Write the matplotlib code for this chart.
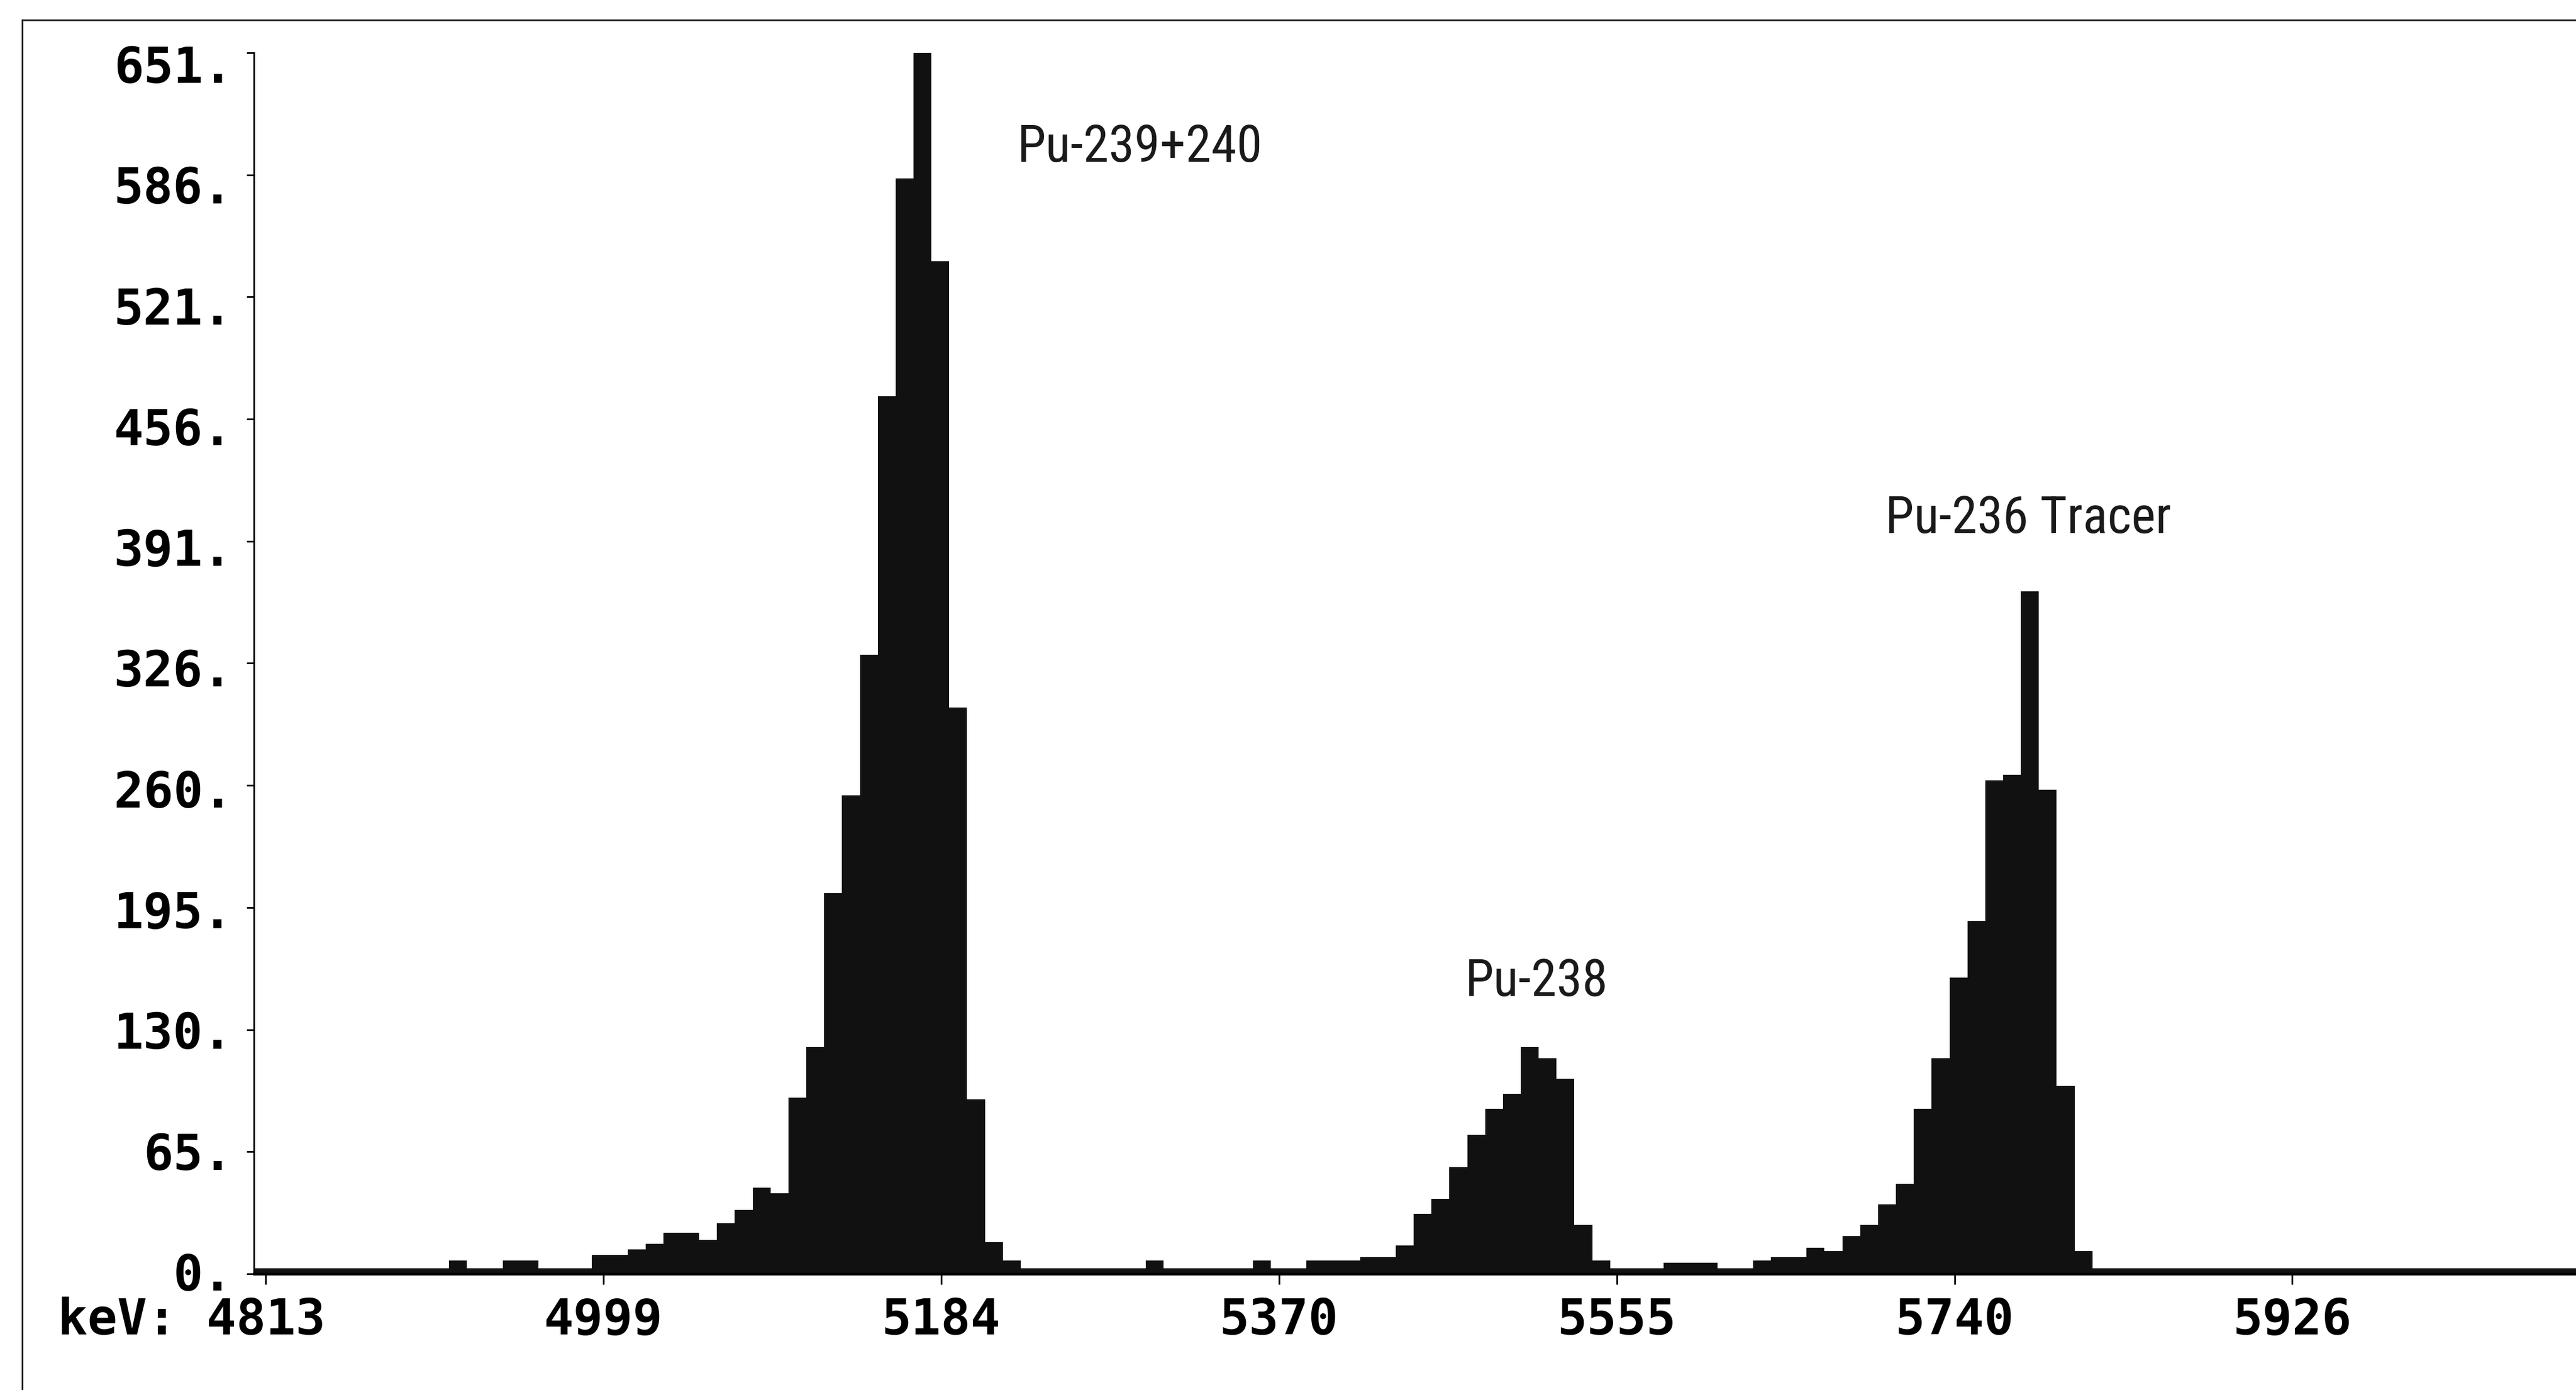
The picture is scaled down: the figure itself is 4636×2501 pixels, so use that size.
import numpy as np
import matplotlib.pyplot as plt
from matplotlib import font_manager
from matplotlib.lines import Line2D
from matplotlib.transforms import ScaledTranslation

# Pu alpha spectrum, counts per channel
first_channel_kev = 4805.8   # lower edge of channel 0
channel_width_kev = 9.81
counts = [
    3, 3, 3, 3, 3, 3, 3, 3, 3, 3, 3, 7, 3, 3, 7, 7, 3, 3, 3,
    10, 10, 13, 16, 22, 22, 18, 27, 34, 46, 43,
    94, 121, 203, 255, 330, 468, 584, 651, 540, 302, 93, 17, 7,
    3, 3, 3, 3, 3, 3, 3, 7, 3, 3, 3, 3, 3, 7, 3, 3,
    7, 7, 7, 9, 9, 15, 32, 40, 57, 74, 88, 96, 121, 115, 104, 26, 7,
    3, 3, 3, 6, 6, 6, 3, 3, 7, 9, 9, 14, 12, 20, 26, 37, 48,
    88, 115, 158, 188, 263, 266, 364, 258, 100, 12,
    3, 3, 3, 3, 3, 3, 3, 3, 3, 3, 3, 3, 3, 3,
    3, 3, 3, 3, 3, 3, 3, 3, 3, 3, 3, 3, 3, 3,
]

y_tick_values = [0, 65.1, 130.2, 195.3, 260.4, 325.5, 390.6, 455.7, 520.8, 585.9, 651]
y_tick_labels = ["0.", "65.", "130.", "195.", "260.", "326.", "391.", "456.", "521.", "586.", "651."]
x_tick_values = [4813, 4998.5, 5184, 5369.5, 5555, 5740.5, 5926]
x_tick_labels = ["keV: 4813", "4999", "5184", "5370", "5555", "5740", "5926"]

peak_names = ["Pu-239+240", "Pu-238", "Pu-236 Tracer"]
peak_label_kev = [5293, 5511, 5781]
peak_label_counts = [593, 148, 395]


def pick_font(candidates):
    names = {f.name for f in font_manager.fontManager.ttflist}
    for c in candidates:
        if c in names:
            return c
    return None


narrow = pick_font(["Liberation Sans Narrow", "Arial Narrow", "Roboto Condensed",
                    "Noto Sans Condensed", "Open Sans Condensed", "DejaVu Sans Condensed"])
if narrow is None:
    label_font = dict(family="DejaVu Sans", fontstretch="condensed", fontsize=58)
else:
    label_font = dict(family=narrow, fontsize=67)

plt.rcParams['font.family'] = 'DejaVu Sans Mono'
plt.rcParams['font.weight'] = 'bold'

edges = first_channel_kev + channel_width_kev * np.arange(len(counts) + 1)

fig = plt.figure(figsize=(46.36, 25.01), dpi=100)
ax = fig.add_axes([0.0986, 0.0836, 0.9014, 0.8784])

ax.stairs(counts, edges, fill=True, color='#111111', linewidth=0)

ax.set_xlim(4806.6, 6081.8)
ax.set_ylim(0, 651)
for s in ['top', 'right']:
    ax.spines[s].set_visible(False)
ax.spines['left'].set_linewidth(2.2)
ax.spines['bottom'].set_linewidth(3.5)

ax.set_yticks(y_tick_values, y_tick_labels)
ax.set_xticks(x_tick_values, x_tick_labels)
ax.tick_params(axis='y', direction='out', length=9.5, width=2.2, pad=18, labelsize=64)
ax.tick_params(axis='x', direction='out', length=13.5, width=2.2, pad=16, labelsize=64)

# value labels sit below their tick marks, more so toward the top of the scale
for lab, v in zip(ax.get_yticklabels(), y_tick_values):
    drop = (24 * v / 651 - 4) / 100
    lab.set_transform(lab.get_transform() + ScaledTranslation(0, -drop, fig.dpi_scale_trans))

# "keV:" prefix hangs to the left of the first tick value
first = ax.get_xticklabels()[0]
first.set_horizontalalignment('right')
first.set_transform(first.get_transform()
                    + ScaledTranslation(2 * 0.602 * 64 / 72, 0, fig.dpi_scale_trans))

for name, xk, yc in zip(peak_names, peak_label_kev, peak_label_counts):
    ax.text(xk, yc, name, ha='center', va='baseline', color='#1a1a1a',
            fontweight='normal', **label_font)

# outer frame of the printout (left and top edges)
fx = 40 / 4636
fy = 1 - 36 / 2501
fig.add_artist(Line2D([fx, fx], [0, fy], transform=fig.transFigure, color='#222222', lw=2.2))
fig.add_artist(Line2D([fx, 1], [fy, fy], transform=fig.transFigure, color='#222222', lw=2.2))

fig.savefig('out.png', dpi=100, facecolor='white')
